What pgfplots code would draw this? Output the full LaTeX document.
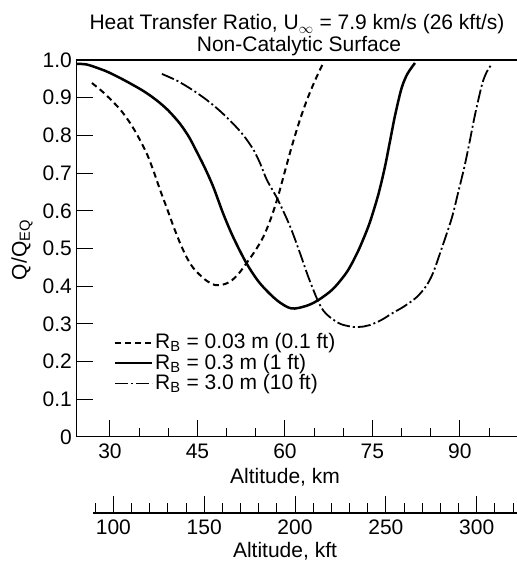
\documentclass[border=0pt]{standalone}
\usepackage{pgfplots}
\pgfplotsset{compat=1.18}
\usepackage{fontspec}
\setmainfont{Liberation Sans}
\begin{document}
\fontsize{21bp}{25bp}\selectfont
\begin{tikzpicture}[x=1bp,y=1bp]
\useasboundingbox (0,0) rectangle (517,565);
\begin{axis}[
  at={(76bp,128bp)}, anchor=south west,
  scale only axis, width=441bp, height=377bp,
  xmin=24.17, xmax=99.8, ymin=0, ymax=1,
  axis line style={draw=none},
  xtick={30,45,60,75,90},
  xticklabels={30,45,60,75,90},
  minor xtick={35,40,50,55,65,70,80,85,95},
  ytick={0,0.1,0.2,0.3,0.4,0.5,0.6,0.7,0.8,0.9,1.0},
  yticklabels={0,0.1,0.2,0.3,0.4,0.5,0.6,0.7,0.8,0.9,1.0},
  xtick pos=bottom, ytick pos=left,
  tick align=inside,
  major tick length=17bp, minor tick length=9bp,
  every tick/.style={black, line width=1bp},
  xticklabel style={inner sep=0pt, yshift=-7bp},
  yticklabel style={inner sep=0pt, xshift=-4bp},
  /pgf/number format/assume math mode=true,
  legend style={draw=none, fill=none, at={(rel axis cs:0.0862,0.279)}, anchor=north west,
    inner sep=0pt, row sep=-1bp, nodes={inner sep=1.5bp, anchor=west}},
  legend cell align=left,
  legend image code/.code={\draw[#1] (0bp,0bp) -- (37bp,0bp);},
]
\addplot[black, line width=2bp, dash pattern=on 6bp off 4bp, smooth] coordinates {
(26.9,0.939) (29.0,0.912) (31.5,0.873) (33.0,0.843) (34.5,0.806) (36.3,0.752)
(37.5,0.704) (38.6,0.655) (39.8,0.605) (40.9,0.558) (42.0,0.515) (43.1,0.478)
(44.2,0.450) (45.4,0.430) (46.7,0.413) (48.0,0.403) (49.3,0.404) (50.6,0.412)
(52.0,0.432) (53.4,0.461) (54.9,0.494) (56.3,0.531) (57.6,0.580) (58.8,0.637)
(60.0,0.705) (61.2,0.772) (62.5,0.838) (63.8,0.895) (65.2,0.947) (66.5,0.990)};
\addlegendentry{R\textsubscript{B} = 0.03 m (0.1 ft)}
\addplot[black, line width=2.5bp, smooth] coordinates {
(24.2,0.990) (26.0,0.988) (28.0,0.978) (29.8,0.967) (32.5,0.946) (35.7,0.918)
(38.0,0.893) (40.0,0.866) (42.0,0.831) (43.5,0.797) (44.6,0.765) (46.2,0.716)
(47.7,0.664) (49.4,0.593) (51.1,0.531) (53.4,0.461) (55.7,0.408) (58.6,0.363)
(61.1,0.341) (63.7,0.348) (65.7,0.363) (68.2,0.392) (70.6,0.437) (72.3,0.485)
(73.5,0.527) (74.6,0.571) (76.0,0.642) (77.1,0.713) (78.0,0.783) (78.9,0.854)
(80.0,0.925) (81.0,0.963) (82.3,0.992)};
\addlegendentry{R\textsubscript{B} = 0.3 m (1 ft)}
\addplot[black, line width=1.8bp, dash pattern=on 13bp off 3bp on 2bp off 3bp, smooth] coordinates {
(38.9,0.963) (41.5,0.945) (44.2,0.920) (46.5,0.895) (48.7,0.867) (50.8,0.836)
(52.8,0.802) (54.6,0.762) (55.8,0.724) (56.9,0.682) (58.8,0.629) (60.9,0.558)
(62.6,0.487) (64.0,0.425) (65.6,0.363) (66.6,0.335) (67.7,0.318)
(69.5,0.300) (71.7,0.292) (73.5,0.293) (74.6,0.297) (76.5,0.310) (78.5,0.329)
(80.5,0.347) (82.6,0.371) (84.2,0.400) (85.4,0.435) (86.9,0.501) (88.6,0.580)
(89.7,0.648) (90.8,0.718) (91.7,0.785) (92.6,0.855) (93.8,0.935) (94.6,0.968)
(95.5,0.990)};
\addlegendentry{R\textsubscript{B} = 3.0 m (10 ft)}
\draw[black, line width=1.8bp] (rel axis cs:0,1) -- (rel axis cs:0,0) -- (rel axis cs:1,0);
\draw[black, line width=1.5bp] (rel axis cs:0,1) -- (rel axis cs:1,1);
\end{axis}
\begin{axis}[
  at={(93bp,52bp)}, anchor=south west,
  scale only axis, width=424bp, height=10bp,
  xmin=88.8, xmax=322.2, ymin=0, ymax=1,
  hide y axis, axis x line*=bottom,
  axis line style={-, black, line width=1.5bp},
  xtick={100,150,200,250,300},
  xticklabels={100,150,200,250,300},
  minor xtick={90,110,120,130,140,160,170,180,190,210,220,230,240,260,270,280,290,310,320},
  tick align=inside,
  major tick length=17bp, minor tick length=10bp,
  every tick/.style={black, line width=1bp},
  xticklabel style={inner sep=0pt, yshift=-7bp},
  /pgf/number format/assume math mode=true,
]
\end{axis}
\node[anchor=base] at (297,535) {Heat Transfer Ratio, U$_{\infty}$ = 7.9 km/s (26 kft/s)};
\node[anchor=base] at (299,513.5) {Non-Catalytic Surface};
\node[anchor=center] at (285,88) {Altitude, km};
\node[anchor=center] at (285,14) {Altitude, kft};
\node[anchor=center, rotate=90] at (22,315) {Q/Q\textsubscript{EQ}};
\end{tikzpicture}
\end{document}
